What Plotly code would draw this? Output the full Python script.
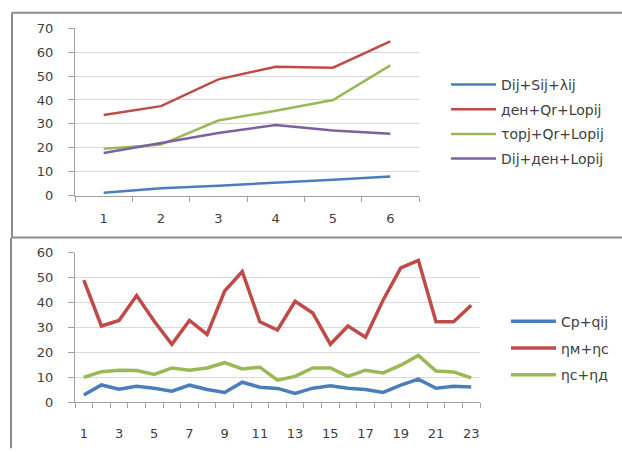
import plotly.graph_objects as go

# ---- upper chart: 6 categories, four combined series ----
top_cats = [1, 2, 3, 4, 5, 6]
top_names = ["Dij+Sij+λij", "ден+Qr+Lopij", "τopj+Qr+Lopij", "Dij+ден+Lopij"]
top_s1 = [1.2, 3.0, 4.1, 5.2, 6.6, 8.0]
top_s2 = [33.7, 37.4, 48.6, 53.9, 53.5, 64.5]
top_s3 = [19.6, 21.3, 31.4, 35.5, 40.0, 54.5]
top_s4 = [17.8, 22.1, 26.2, 29.5, 27.2, 25.9]

# ---- lower chart: 23 categories, three series ----
bot_cats = list(range(1, 24))
bot_names = ["Cp+qij", "ηм+ηc", "ηc+ηд"]
bot_s1 = [3.0, 7.0, 5.3, 6.5, 5.7, 4.5, 6.9, 5.2, 4.0, 8.1, 6.1, 5.6,
          3.6, 5.7, 6.7, 5.7, 5.2, 4.0, 6.9, 9.3, 5.7, 6.5, 6.2]
bot_s2 = [49.0, 30.6, 32.8, 42.8, 32.5, 23.3, 32.8, 27.2, 44.6, 52.4, 32.3, 29.0,
          40.5, 35.8, 23.3, 30.6, 26.1, 41.0, 53.9, 56.9, 32.3, 32.3, 38.9]
bot_s3 = [10.0, 12.3, 12.9, 12.8, 11.2, 13.8, 12.9, 13.8, 15.9, 13.4, 14.1, 8.9,
          10.4, 13.8, 13.8, 10.4, 12.9, 11.8, 14.9, 18.8, 12.6, 12.2, 9.8]

BLUE, RED, GREEN, PURPLE = "#4A7EBB", "#BE4B48", "#98B954", "#7D60A0"
W, H = 622, 452
FONT = "DejaVu Sans"
TXT = "#404040"
GRID = "#D9D9D9"
AXIS = "#A0A0A0"
BORDER = "#8C8C8C"


def px(x):
    return x / W


def py(y):
    return 1 - y / H


fig = go.Figure()

for name, vals, col in zip(top_names, [top_s1, top_s2, top_s3, top_s4],
                           [BLUE, RED, GREEN, PURPLE]):
    fig.add_trace(go.Scatter(x=top_cats, y=vals, name=name, mode="lines",
                             line=dict(color=col, width=2.5),
                             xaxis="x", yaxis="y", legend="legend",
                             legendgroup=name))

for name, vals, col in zip(bot_names, [bot_s1, bot_s2, bot_s3],
                           [BLUE, RED, GREEN]):
    fig.add_trace(go.Scatter(x=bot_cats, y=vals, name=name, mode="lines",
                             line=dict(color=col, width=3.5),
                             xaxis="x2", yaxis="y2", legend="legend2",
                             legendgroup=name))

tick_font = dict(family=FONT, size=13, color=TXT)
legend_font = dict(family=FONT, size=14, color=TXT)

common_x = dict(showgrid=False, zeroline=False, showline=True, linecolor=AXIS,
                linewidth=1, ticks="", tickfont=tick_font, fixedrange=True)
common_y = dict(showgrid=True, gridcolor=GRID, gridwidth=1, zeroline=False,
                showline=True, linecolor=AXIS, linewidth=1, ticks="outside",
                ticklen=6, tickcolor=AXIS, tickfont=tick_font,
                ticklabelstandoff=12, dtick=10, fixedrange=True)

fig.update_layout(
    width=W, height=H,
    margin=dict(l=0, r=0, t=0, b=0),
    paper_bgcolor="white", plot_bgcolor="white",
    showlegend=True,
    xaxis=dict(domain=[px(75), px(419)], range=[0.5, 6.5], anchor="y",
               tickmode="array", tickvals=top_cats, ticklabelstandoff=11,
               minor=dict(tickmode="linear", tick0=0.5, dtick=1,
                          ticks="outside", ticklen=5, tickcolor=AXIS),
               **common_x),
    yaxis=dict(domain=[py(195), py(22)], range=[0, 70], anchor="x", **common_y),
    xaxis2=dict(domain=[px(75), px(480)], range=[0.5, 23.5], anchor="y2",
                tickmode="array", tickvals=bot_cats[::2], ticklabelstandoff=19,
                minor=dict(tickmode="linear", tick0=0.5, dtick=1,
                           ticks="outside", ticklen=5, tickcolor=AXIS),
                **common_x),
    yaxis2=dict(domain=[py(409), py(254)], range=[0, 60], anchor="x2", **common_y),
    legend=dict(x=px(446), y=py(64), xanchor="left", yanchor="top",
                font=legend_font, bgcolor="rgba(0,0,0,0)",
                tracegroupgap=3.5, itemwidth=45),
    legend2=dict(x=px(506), y=py(309), xanchor="left", yanchor="top",
                 font=legend_font, bgcolor="rgba(0,0,0,0)",
                 tracegroupgap=5.5, itemwidth=45),
    shapes=[
        # frame around the upper chart
        dict(type="line", xref="paper", yref="paper", x0=px(12), x1=1.01,
             y0=py(6), y1=py(6), line=dict(color=BORDER, width=2)),
        dict(type="line", xref="paper", yref="paper", x0=px(12), x1=px(12),
             y0=py(6), y1=py(238), line=dict(color=BORDER, width=2)),
        dict(type="line", xref="paper", yref="paper", x0=px(11), x1=1.01,
             y0=py(238.5), y1=py(238.5), line=dict(color=BORDER, width=2)),
        # frame of the lower chart
        dict(type="line", xref="paper", yref="paper", x0=px(11), x1=px(11),
             y0=py(239), y1=-0.01, line=dict(color=BORDER, width=2)),
    ],
)

fig.write_html("out.html")
